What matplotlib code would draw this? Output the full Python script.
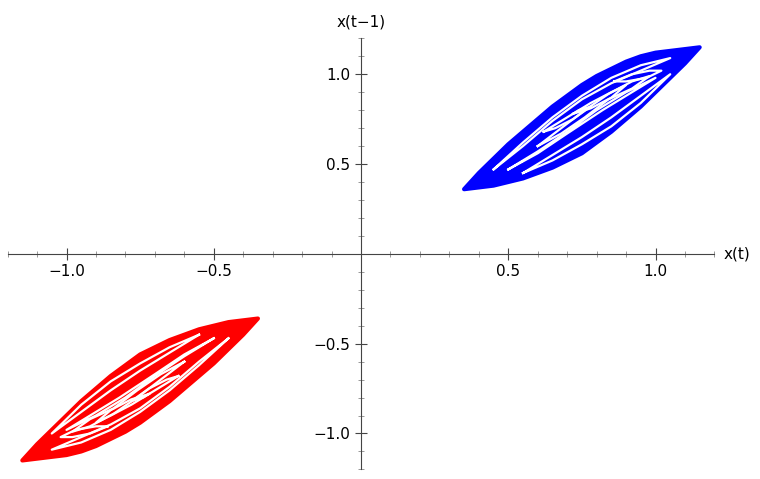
import numpy as np
import matplotlib.pyplot as plt
from matplotlib.ticker import MultipleLocator, FixedFormatter, FixedLocator

# outline of the blue attractor (x(t), x(t-1))
outline_x = [0.35, 0.40, 0.45, 0.50, 0.55, 0.60, 0.65, 0.70, 0.75, 0.80, 0.85, 0.90, 0.95, 1.00, 1.05, 1.10, 1.15,
             1.10, 1.05, 1.00, 0.95, 0.90, 0.85, 0.80, 0.75, 0.70, 0.65, 0.60, 0.55, 0.50, 0.45, 0.40, 0.35]
outline_y = [0.36, 0.45, 0.53, 0.61, 0.68, 0.75, 0.82, 0.88, 0.94, 0.99, 1.03, 1.07, 1.10, 1.12, 1.13, 1.14, 1.15,
             1.06, 0.98, 0.90, 0.82, 0.75, 0.68, 0.62, 0.56, 0.52, 0.48, 0.45, 0.42, 0.40, 0.38, 0.37, 0.36]

# gaps between the strands of the curve (white)
gap_a_x = [0.45, 0.55, 0.65, 0.75, 0.85, 0.95, 1.05, 0.95, 0.85, 0.75, 0.65, 0.55, 0.45]
gap_a_y = [0.47, 0.62, 0.76, 0.88, 0.98, 1.05, 1.09, 1.02, 0.95, 0.86, 0.74, 0.60, 0.47]
gap_b_x = [0.50, 0.60, 0.70, 0.80, 0.90, 1.00, 0.92, 0.82, 0.70, 0.60, 0.50]
gap_b_y = [0.47, 0.57, 0.68, 0.80, 0.90, 0.98, 0.90, 0.80, 0.67, 0.56, 0.47]
gap_c_x = [0.60, 0.68, 0.76, 0.84, 0.92, 0.98, 0.92, 0.84, 0.76, 0.68, 0.60]
gap_c_y = [0.60, 0.70, 0.80, 0.89, 0.96, 0.99, 0.92, 0.86, 0.76, 0.67, 0.60]
gap_d_x = [0.55, 0.65, 0.75, 0.85, 0.95, 1.05, 0.95, 0.85, 0.75, 0.65, 0.55]
gap_d_y = [0.45, 0.52, 0.61, 0.71, 0.84, 1.00, 0.88, 0.76, 0.65, 0.55, 0.45]
gap_e_x = [0.72, 0.78, 0.85, 0.90, 0.85, 0.78, 0.72]
gap_e_y = [0.78, 0.84, 0.90, 0.94, 0.87, 0.81, 0.78]
gap_f_x = [0.86, 0.92, 0.98, 1.02, 0.97, 0.90, 0.86]
gap_f_y = [0.96, 1.00, 1.02, 1.02, 0.98, 0.96, 0.96]
gap_g_x = [0.62, 0.68, 0.74, 0.78, 0.72, 0.66, 0.62]
gap_g_y = [0.68, 0.74, 0.80, 0.82, 0.75, 0.70, 0.68]

gaps = [(gap_a_x, gap_a_y), (gap_b_x, gap_b_y), (gap_c_x, gap_c_y), (gap_d_x, gap_d_y),
        (gap_e_x, gap_e_y), (gap_f_x, gap_f_y), (gap_g_x, gap_g_y)]

fig, ax = plt.subplots(figsize=(7.6, 4.79), dpi=100)
fig.subplots_adjust(left=0.01, right=0.94, bottom=0.02, top=0.92)

ox = np.array(outline_x); oy = np.array(outline_y)
for sign, col in [(1, "#0000ff"), (-1, "#ff0000")]:
    ax.fill(sign * ox, sign * oy, color=col, lw=3, ec=col, joinstyle="round")
    for gx, gy in gaps:
        ax.plot(sign * np.array(gx), sign * np.array(gy), color="white", lw=1.6)

ax.set_xlim(-1.2, 1.2)
ax.set_ylim(-1.2, 1.2)
for s in ["left", "bottom"]:
    ax.spines[s].set_position("zero")
    ax.spines[s].set_color("#444444")
for s in ["right", "top"]:
    ax.spines[s].set_visible(False)

ticks = [-1.0, -0.5, 0.5, 1.0]
labels = ["\u22121.0", "\u22120.5", "0.5", "1.0"]
ax.xaxis.set_major_locator(FixedLocator(ticks))
ax.xaxis.set_major_formatter(FixedFormatter(labels))
ax.yaxis.set_major_locator(FixedLocator(ticks))
ax.yaxis.set_major_formatter(FixedFormatter(labels))
ax.xaxis.set_minor_locator(MultipleLocator(0.1))
ax.yaxis.set_minor_locator(MultipleLocator(0.1))
ax.tick_params(which="major", direction="inout", length=8, color="#444444", labelsize=11)
ax.tick_params(which="minor", direction="inout", length=4, color="#888888")

ax.text(1.23, 0.0, "x(t)", fontsize=11, va="center", ha="left", clip_on=False)
ax.text(0.0, 1.25, "x(t\u22121)", fontsize=11, va="bottom", ha="center", clip_on=False)

fig.savefig("out.png")
